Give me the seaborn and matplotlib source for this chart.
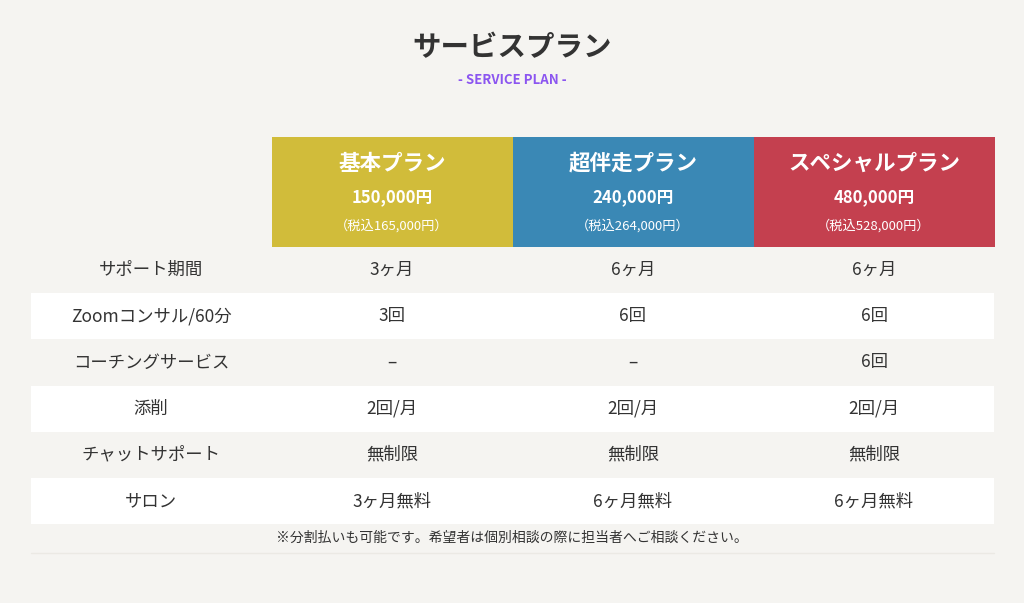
import matplotlib
matplotlib.use("Agg")
import matplotlib.pyplot as plt
from matplotlib.patches import Rectangle
import seaborn as sns

sns.set_theme(style="white", font="Noto Sans CJK JP")

plans = ["基本プラン", "超伴走プラン", "スペシャルプラン"]
prices = ["150,000円", "240,000円", "480,000円"]
tax_prices = ["（税込165,000円）", "（税込264,000円）", "（税込528,000円）"]
plan_colors = ["#d1bc3a", "#3a88b5", "#c4404f"]
features = ["サポート期間", "Zoomコンサル/60分", "コーチングサービス", "添削", "チャットサポート", "サロン"]
basic = ["3ヶ月", "3回", "–", "2回/月", "無制限", "3ヶ月無料"]
companion = ["6ヶ月", "6回", "–", "2回/月", "無制限", "6ヶ月無料"]
special = ["6ヶ月", "6回", "6回", "2回/月", "無制限", "6ヶ月無料"]
values = [basic, companion, special]

W, H = 1024, 603
bg = "#f5f4f1"
fig = plt.figure(figsize=(W / 100, H / 100), dpi=100, facecolor=bg)
ax = fig.add_axes([0, 0, 1, 1])
ax.set_xlim(0, W); ax.set_ylim(H, 0); ax.axis("off"); ax.set_facecolor(bg)

txt = "#333333"
ax.text(512, 48, "サービスプラン", ha="center", va="center", fontsize=20.5, fontweight="bold", color=txt)
ax.text(512, 80, "- SERVICE PLAN -", ha="center", va="center", fontsize=9.5, fontweight="bold", color="#8b55f0")

col_x = [272, 513, 754]
col_w = 241
for i in range(3):
    ax.add_patch(Rectangle((col_x[i], 137), col_w, 110, color=plan_colors[i], lw=0))
    cx = col_x[i] + 120
    ax.text(cx, 163, plans[i], ha="center", va="center", fontsize=15.5, fontweight="bold", color="white")
    ax.text(cx, 197, prices[i], ha="center", va="center", fontsize=12, fontweight="bold", color="white")
    ax.text(cx, 226, tax_prices[i], ha="center", va="center", fontsize=9.5, color="white")

row_h = 46.2
for r, f in enumerate(features):
    y0 = 247 + r * row_h
    if r % 2 == 1:
        ax.add_patch(Rectangle((31, y0), 963, row_h, color="white", lw=0))
    yc = y0 + row_h / 2
    ax.text(151, yc, f, ha="center", va="center", fontsize=12.5, color=txt)
    for i in range(3):
        ax.text(col_x[i] + 120, yc, values[i][r], ha="center", va="center", fontsize=12.5, color=txt)

ax.text(512, 538, "※分割払いも可能です。希望者は個別相談の際に担当者へご相談ください。", ha="center", va="center", fontsize=10, color=txt)
ax.plot([31, 994], [553, 553], color="#ebe9e4", lw=1)

fig.savefig("out.png", dpi=100, facecolor=bg)
